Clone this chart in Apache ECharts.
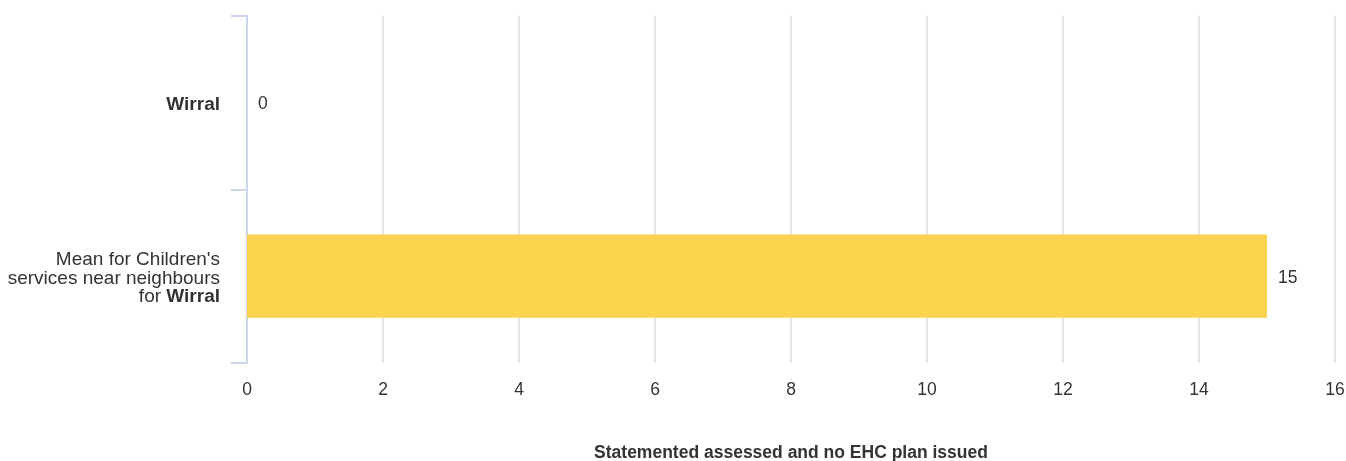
<!DOCTYPE html>
<html>
<head>
<meta charset="utf-8">
<script src="https://cdn.jsdelivr.net/npm/echarts@6/dist/echarts.min.js"></script>
<style>html,body{margin:0;padding:0;background:#fff;}#chart{width:1346px;height:461px;}</style>
</head>
<body>
<div id="chart"></div>
<script>
const categories = ["Wirral", "Mean for Children's services near neighbours for Wirral"];
const values = [0, 15];
const xTicks = [0, 2, 4, 6, 8, 10, 12, 14, 16];
const axisTitle = "Statemented assessed and no EHC plan issued";
const barColor = "#fcd34d";

const chart = echarts.init(document.getElementById('chart'));
function catLabel(v) {
  if (v === "Wirral") return "{b|Wirral}";
  return "{n|Mean for Children's}\n{n|services near neighbours}\n{n|for }{b|Wirral}";
}
chart.setOption({
  animation: false,
  textStyle: { fontFamily: "Liberation Sans, Arial, sans-serif" },
  grid: { left: 247, right: 11, top: 15.5, bottom: 98, containLabel: false, outerBoundsMode: 'none' },
  xAxis: {
    type: 'value', min: xTicks[0], max: xTicks[xTicks.length - 1], interval: 2,
    axisLine: { show: false }, axisTick: { show: false },
    splitLine: { show: true, lineStyle: { color: '#dcdcdc', width: 1.5 } },
    axisLabel: { color: '#333', fontSize: 17.5, margin: 18 },
    name: axisTitle, nameLocation: 'middle', nameGap: 81,
    nameTextStyle: { color: '#333', fontSize: 17.5, fontWeight: 'bold' }
  },
  yAxis: {
    type: 'category', data: categories, inverse: true,
    axisLine: { show: true, lineStyle: { color: '#ccd6eb', width: 2 } },
    axisTick: { show: true, length: 16, lineStyle: { color: '#ccd6eb', width: 2 } },
    splitLine: { show: false },
    axisLabel: {
      margin: 27, align: 'right', formatter: catLabel, padding: [5, 0, 0, 0],
      rich: {
        n: { color: '#333', fontSize: 19, lineHeight: 18.5, align: 'right' },
        b: { color: '#333', fontSize: 19, lineHeight: 18.5, fontWeight: 'bold', align: 'right' }
      }
    }
  },
  series: [{
    type: 'bar', data: values, barWidth: '48%',
    itemStyle: { color: barColor },
    label: { show: true, position: 'right', distance: 11, offset: [0, 2], color: '#333', fontSize: 17.5 }
  }]
});
</script>
</body>
</html>
